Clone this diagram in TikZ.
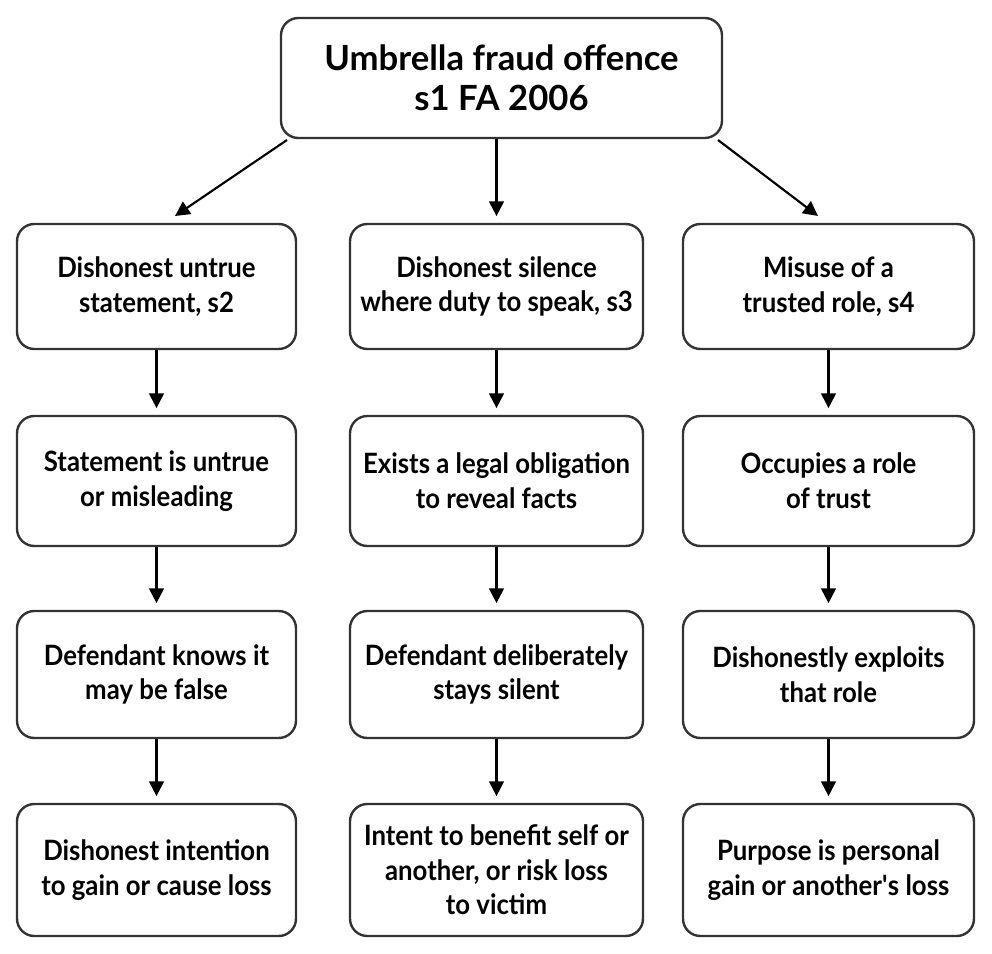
\documentclass[tikz,border=0pt]{standalone}
\usepackage{fontspec}
\setmainfont{Lato}
\newfontfamily\bodyfont{Lato}[FakeStretch=0.92]
\usetikzlibrary{arrows.meta}
\definecolor{edge}{HTML}{333333}
\begin{document}
\begin{tikzpicture}[x=0.75pt,y=-0.75pt,
  box/.style={draw=edge,line width=1.8pt,rounded corners=13pt,fill=white,
    align=center,inner sep=0pt,font=\bodyfont\bfseries\fontsize{21}{26}\selectfont},
  title/.style={box,font=\bfseries\fontsize{26}{30}\selectfont},
  arr/.style={draw=black,line width=1.6pt,-{Triangle[length=11pt,width=11pt]}}]
\useasboundingbox (0,0) rectangle (992,953);
\node[title,minimum width=441*0.75pt,minimum height=120*0.75pt] (top) at (501.5,78) {Umbrella fraud offence\\s1 FA 2006};
\foreach \n/\x in {L/156.5, M/496.5, R/828.5}{
  \foreach \r/\y in {1/286.5, 2/481, 3/674.5, 4/870}{
    \coordinate (c\n\r) at (\x,\y);
  }
}
\tikzset{lw/.style={minimum width=279*0.75pt},mw/.style={minimum width=293*0.75pt},rw/.style={minimum width=291*0.75pt},
  h1/.style={minimum height=125*0.75pt},h2/.style={minimum height=130*0.75pt},h3/.style={minimum height=127*0.75pt},h4/.style={minimum height=132*0.75pt}}
\node[box,lw,h1] (L1) at (cL1) {Dishonest untrue\\statement, s2};
\node[box,lw,h2] (L2) at (cL2) {Statement is untrue\\or misleading};
\node[box,lw,h3] (L3) at (cL3) {Defendant knows it\\may be false};
\node[box,lw,h4] (L4) at (cL4) {Dishonest intention\\to gain or cause loss};
\node[box,mw,h1] (M1) at (cM1) {Dishonest silence\\where duty to speak, s3};
\node[box,mw,h2] (M2) at (cM2) {Exists a legal obligation\\to reveal facts};
\node[box,mw,h3] (M3) at (cM3) {Defendant deliberately\\stays silent};
\node[box,mw,h4] (M4) at (cM4) {Intent to benefit self or\\another, or risk loss\\to victim};
\node[box,rw,h1] (R1) at (cR1) {Misuse of a\\trusted role, s4};
\node[box,rw,h2] (R2) at (cR2) {Occupies a role\\of trust};
\node[box,rw,h3] (R3) at (cR3) {Dishonestly exploits\\that role};
\node[box,rw,h4] (R4) at (cR4) {Purpose is personal\\gain or another\textquotesingle s loss};
\coordinate (tL) at (287,140);
\coordinate (tLe) at (175,216);
\coordinate (tR) at (718,140);
\coordinate (tRe) at (818,216);
\draw[arr] (tL) -- (tLe);
\draw[arr] (tR) -- (tRe);
\draw[arr] (top.south -| M1.north) -- ([yshift=5pt]M1.north);
\foreach \c in {L,M,R}{
  \draw[arr] (\c1.south) -- ([yshift=5pt]\c2.north);
  \draw[arr] (\c2.south) -- ([yshift=5pt]\c3.north);
  \draw[arr] (\c3.south) -- ([yshift=5pt]\c4.north);
}
\end{tikzpicture}
\end{document}
